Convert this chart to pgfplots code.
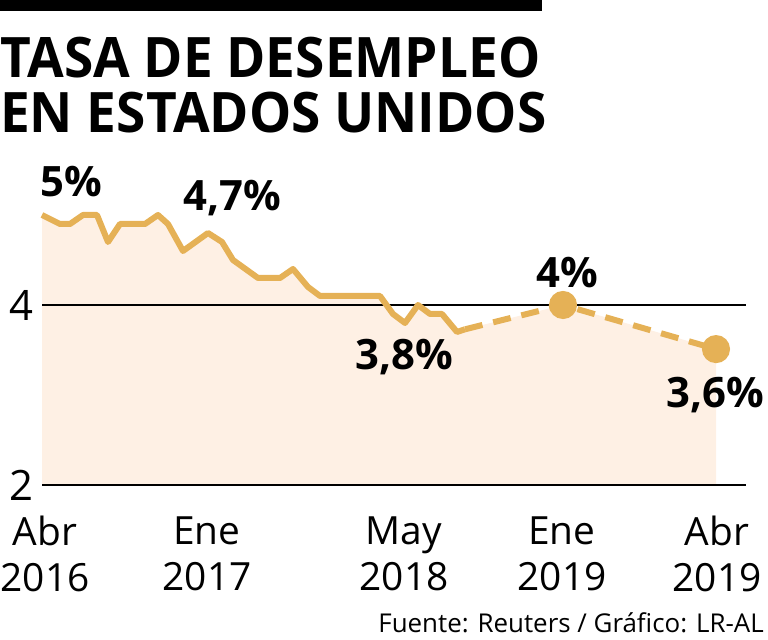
\documentclass[border=0pt]{standalone}
\usepackage{pgfplots}
\pgfplotsset{compat=1.18}
\usepackage{fontspec}
\setmainfont{Open Sans}
\definecolor{gold}{HTML}{E5B156}
\definecolor{peach}{HTML}{FEF0E4}
\begin{document}
\begin{tikzpicture}
\useasboundingbox (0,0) rectangle (768bp,640bp);
\begin{axis}[
  at={(0,0)}, anchor=south west,
  width=768bp, height=640bp, scale only axis,
  xmin=0, xmax=768, ymin=0.277778, ymax=7.388889,
  clip=false,
  axis line style={draw=none},
  tick style={draw=none},
  ytick={2,4},
  yticklabel style={anchor=center, xshift=21bp, font=\fontsize{42}{46}\selectfont},
  xtick={45,207,404,562,717},
  xticklabels={Abr\\2016, Ene\\2017, May\\2018, Ene\\2019, Abr\\2019},
  xticklabel style={anchor=center, yshift=86bp, align=center, font=\fontsize{39}{46}\selectfont},
  /pgf/number format/assume math mode=true,
]
% area under the series
\addplot[fill=peach, draw=none] coordinates {
(42,2)(42,5.0)(60,4.9)(70,4.9)(83,5.0)(97,5.0)(108,4.7)(120,4.9)(145,4.9)(158,5.0)(168,4.9)(183,4.6)(208,4.8)(222,4.7)(233,4.5)(258,4.3)(280,4.3)(293,4.4)(308,4.2)(320,4.1)(380,4.1)(393,3.9)(405,3.8)(418,4.0)(430,3.9)(442,3.9)(457,3.7)(465,3.73)(563,4.0)(716,3.51)(716,2)
};
% reference lines
\addplot[black, line width=1.5bp] coordinates {(42,4)(746,4)};
\addplot[black, line width=1.5bp] coordinates {(42,2)(746,2)};
% observed
\addplot[gold, line width=6bp, line join=round] coordinates {
(42,5.0)(60,4.9)(70,4.9)(83,5.0)(97,5.0)(108,4.7)(120,4.9)(145,4.9)(158,5.0)(168,4.9)(183,4.6)(208,4.8)(222,4.7)(233,4.5)(258,4.3)(280,4.3)(293,4.4)(308,4.2)(320,4.1)(380,4.1)(393,3.9)(405,3.8)(418,4.0)(430,3.9)(442,3.9)(457,3.7)(465,3.73)
};
% projection
\addplot[gold, line width=6bp, dash pattern=on 18bp off 11bp, mark=*, mark size=11bp, mark indices={2,3}, mark options={solid, fill=gold, draw=none}] coordinates {
(465,3.73)(563,4.0)(716,3.51)
};
\end{axis}
\begin{scope}[x=1bp, y=-1bp, yshift=640bp]
\fill[black] (0,0) rectangle (542,11);
\node[anchor=base west, inner sep=0pt, font=\bfseries\fontsize{56}{60}\selectfont] at (0,78) {\scalebox{0.953}[1]{TASA DE DESEMPLEO}};
\node[anchor=base west, inner sep=0pt, font=\bfseries\fontsize{56}{60}\selectfont] at (0,133) {\scalebox{0.953}[1]{EN ESTADOS UNIDOS}};
\node[font=\bfseries\fontsize{42}{44}\selectfont] at (71,182) {5\%};
\node[font=\bfseries\fontsize{42}{44}\selectfont] at (232,198) {4,7\%};
\node[font=\bfseries\fontsize{42}{44}\selectfont] at (404,357) {3,8\%};
\node[font=\bfseries\fontsize{42}{44}\selectfont] at (567,273) {4\%};
\node[font=\bfseries\fontsize{42}{44}\selectfont] at (715,395) {3,6\%};
\node[anchor=base east, inner sep=0pt, font=\fontsize{26}{30}\selectfont] at (764,633) {Fuente: Reuters / Gráfico: LR-AL};
\end{scope}
\end{tikzpicture}
\end{document}
